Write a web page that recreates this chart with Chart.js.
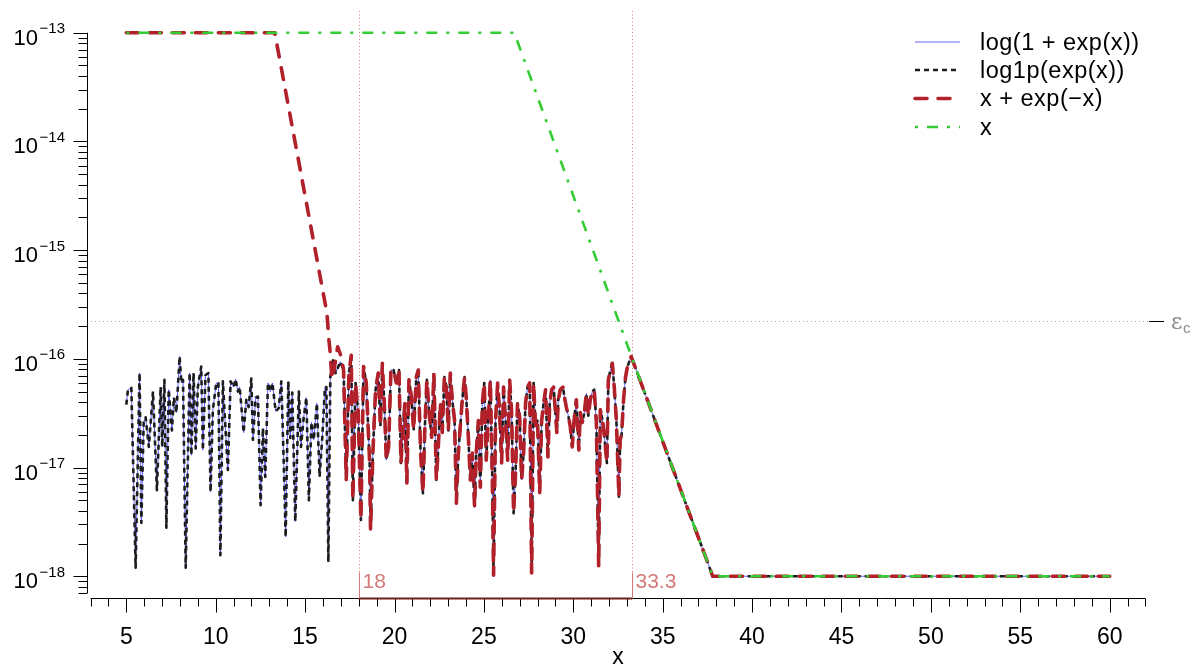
<!DOCTYPE html>
<html>
<head>
<meta charset="utf-8">
<script src="https://cdn.jsdelivr.net/npm/chart.js@4.4.0/dist/chart.umd.min.js"></script>
<style>
  html, body { margin: 0; padding: 0; background: #fff; }
</style>
</head>
<body>
<canvas id="errChart" width="1196" height="665"></canvas>
<script>
// x grid (5 .. 60)
const xVals = [
  5.00, 5.09, 5.28, 5.52, 5.74, 5.84, 5.97, 6.08, 6.26, 6.49, 6.71, 6.92, 7.01, 7.13, 7.24, 7.37,
  7.55, 7.66, 7.80, 7.98, 8.08, 8.17, 8.32, 8.54, 8.64, 8.76, 8.88, 9.00, 9.19, 9.28, 9.43, 9.59,
  9.71, 9.84, 10.03, 10.15, 10.26, 10.40, 10.55, 10.68, 10.83, 11.00, 11.11, 11.24, 11.34, 11.56,
  11.71, 11.84, 11.99, 12.08, 12.23, 12.36, 12.51, 12.64, 12.77, 12.92, 13.05, 13.17, 13.35, 13.52,
  13.67, 13.80, 13.91, 14.06, 14.17, 14.28, 14.45, 14.65, 14.77, 14.92, 15.07, 15.21, 15.35, 15.48,
  15.66, 15.81, 15.96, 16.11, 16.19, 16.30, 16.41, 16.56, 16.71, 16.97, 17.15, 17.30, 17.45, 17.58,
  17.67, 17.82, 17.97, 18.12, 18.27, 18.42, 18.61, 18.66, 18.79, 18.94, 19.09, 19.21, 19.32, 19.45,
  19.54, 19.67, 19.80, 19.95, 20.10, 20.25, 20.36, 20.47, 20.58, 20.69, 20.81, 20.94, 21.07, 21.22,
  21.33, 21.46, 21.59, 21.70, 21.81, 21.96, 22.08, 22.20, 22.34, 22.45, 22.56, 22.67, 22.79, 22.90,
  23.01, 23.12, 23.23, 23.36, 23.46, 23.57, 23.68, 23.79, 23.92, 24.02, 24.13, 24.24, 24.35, 24.48,
  24.57, 24.69, 24.80, 24.91, 25.02, 25.13, 25.25, 25.36, 25.47, 25.54, 25.65, 25.77, 25.88, 25.99,
  26.10, 26.21, 26.33, 26.44, 26.55, 26.66, 26.77, 26.88, 27.00, 27.11, 27.22, 27.33, 27.44, 27.56,
  27.67, 27.78, 27.89, 28.00, 28.12, 28.23, 28.34, 28.45, 28.58, 28.68, 28.79, 28.90, 29.08, 29.16,
  29.27, 29.42, 29.50, 29.61, 29.72, 29.83, 29.94, 30.06, 30.17, 30.31, 30.39, 30.50, 30.62, 30.73,
  30.84, 30.95, 31.06, 31.17, 31.29, 31.42, 31.51, 31.62, 31.73, 31.88, 31.96, 32.07, 32.18, 32.29,
  32.41, 32.55, 32.62, 32.70, 32.81, 32.92, 33.03, 33.24, 37.80, 60.00,
];

// relative error of log(1+exp(x)) (log1p(exp(x)) looks identical in the plot)
const errLog = [
  3.8e-17, 5.2e-17, 5.4e-17, 1.2e-18, 7.4e-17, 3.1e-18, 2.6e-17, 2.9e-17, 1.55e-17, 5.0e-17, 6.2e-18, 5.5e-17, 1.55e-17, 6.4e-17, 2.8e-18, 5.2e-17,
  2.2e-17, 4.4e-17, 3.2e-17, 1.05e-16, 6.0e-17, 6.4e-17, 1.2e-18, 7.4e-17, 1.3e-17, 7.4e-17, 1.5e-17, 5.5e-17, 8.5e-17, 1.45e-17, 7.1e-17, 7.4e-17,
  6.0e-18, 3.4e-17, 6.0e-17, 6.0e-17, 1.56e-18, 6.2e-17, 2.2e-17, 9.5e-18, 6.2e-17, 5.5e-17, 6.5e-17, 5.0e-17, 5.5e-17, 2.1e-17,
  4.2e-17, 3.6e-17, 6.6e-17, 1.8e-17, 4.4e-17, 4.5e-17, 4.5e-18, 2.3e-17, 8.2e-18, 6.0e-17, 5.0e-17, 6.0e-17, 3.3e-17, 3.5e-17,
  6.2e-17, 1.17e-17, 2.3e-18, 6.2e-17, 1.87e-17, 4.9e-17, 3.2e-18, 5.0e-17, 1.55e-17, 2.9e-17, 4.4e-17, 5.0e-18, 2.6e-17, 1.8e-17,
  3.9e-17, 8.2e-18, 1.9e-17, 5.5e-17, 5.5e-17, 1.35e-18, 6.8e-17, 9.7e-17, 7.4e-17, 9.4e-17, 7.9e-17, 7.7e-18, 7.4e-17, 1.08e-16,
  5.0e-18, 6.0e-17, 3.2e-17, 3.3e-18, 8.5e-17, 6.0e-17, 1.1e-17, 2.65e-18, 1.36e-17, 5.2e-17, 7.4e-17, 2.4e-17, 9.1e-17, 3.2e-17,
  1.17e-17, 1.55e-17, 7.9e-17, 7.9e-17, 6.0e-17, 7.9e-17, 1.1e-17, 2.2e-17, 3.9e-17, 7.2e-18, 6.4e-17, 4.5e-17, 2.2e-17, 6.8e-17,
  7.9e-17, 1.36e-17, 5.8e-18, 2.4e-17, 6.4e-17, 2.9e-17, 1.9e-17, 7.4e-17, 7.7e-18, 1.55e-17, 3.9e-17, 2.1e-17, 6.8e-17, 5.5e-17,
  2.2e-17, 7.4e-17, 4.2e-17, 2.7e-17, 4.7e-18, 1.36e-17, 2.4e-17, 4.2e-17, 6.8e-17, 4.2e-17, 1.9e-17, 7.7e-18, 1.36e-17, 4.3e-18,
  1.36e-17, 2.7e-17, 6.6e-18, 3.9e-17, 6.0e-17, 1.17e-17, 2.9e-17, 6.4e-17, 7.7e-18, 1.02e-18, 2.7e-17, 6.0e-17, 3.2e-17, 1.1e-17,
  5.5e-17, 2.7e-17, 1.17e-17, 6.4e-17, 3.2e-17, 3.8e-18, 8.9e-18, 3.9e-17, 2.9e-17, 7.7e-18, 1.36e-17, 3.9e-17, 5.5e-17, 6.0e-17,
  1.07e-18, 6.0e-17, 2.4e-17, 2.7e-17, 5.8e-18, 2.7e-17, 3.9e-17, 5.2e-17, 1.25e-17, 3.9e-17, 5.2e-17, 5.5e-17, 2.1e-17, 4.2e-17,
  5.2e-17, 5.5e-17, 4.5e-17, 3.6e-17, 3.0e-17, 2.4e-17, 1.55e-17, 2.9e-17, 4.2e-17, 1.45e-17, 3.2e-17, 2.6e-17, 3.2e-17, 4.8e-17,
  3.0e-17, 4.2e-17, 5.0e-17, 5.2e-17, 2.6e-17, 1.22e-18, 3.4e-17, 2.8e-17, 2.0e-17, 1.1e-17, 6.4e-17, 7.8e-17, 9.1e-17, 5.5e-17,
  2.7e-17, 5.4e-18, 1.8e-17, 2.0e-17, 4.2e-17, 6.8e-17, 8.5e-17, 1.05e-16, 1.0e-18, 1.0e-18,
];
const errLog1p = errLog;

// x + exp(-x): its own start, then the same noise as above from x = 17.15
const xRedHead = [5, 13.3, 16.22, 16.33, 16.4, 16.5, 16.62, 16.82, 17.02];
const errRedHead = [1e-13, 1e-13, 2.64e-16, 1.5e-16, 1.15e-16, 6.5e-17, 8.0e-17, 1.29e-16, 1.05e-16];

// plain x
const xPlain = [5, 26.7, 33.3, 37.8, 60];
const errPlain = [1e-13, 1e-13, 1.0e-16, 1e-18, 1e-18];

// annotations and axis labels
const epsC = 2.220446e-16;
const cutoffs = [18, 33.3];
const cutoffLabels = ["18", "33.3"];
const xMajor = [5, 10, 15, 20, 25, 30, 35, 40, 45, 50, 55, 60];
const yDecades = [-13, -14, -15, -16, -17, -18];
const seriesNames = ["log(1 + exp(x))", "log1p(exp(x))", "x + exp(\u2212x)", "x"];

const FONT = "'Liberation Sans', Arial, sans-serif";
const PINK = "rgb(212,120,120)";

function toPoints(xs, ys) {
  return xs.map((x, i) => ({ x: x, y: ys[i] }));
}

const redStart = xVals.indexOf(17.15);
const xRed = xRedHead.concat(xVals.slice(redStart));
const errRed = errRedHead.concat(errLog.slice(redStart));

const lineStyles = [
  { color: "rgba(60,60,250,0.8)", width: 1, dash: [], cap: "butt" },
  { color: "#1c1c1c", width: 2.6, dash: [5, 4], cap: "butt" },
  { color: "#b2202a", width: 3.6, dash: [12, 11], cap: "round" },
  { color: "#33cc33", width: 2.6, dash: [3, 9, 11, 9], cap: "butt" },
];

// dotted reference lines behind the data
const refLinesPlugin = {
  id: "refLines",
  beforeDatasetsDraw(chart) {
    const { ctx, chartArea, scales } = chart;
    ctx.save();
    ctx.lineWidth = 1;
    ctx.setLineDash([1, 3]);
    ctx.strokeStyle = "rgb(165,165,165)";
    const ye = Math.round(scales.y.getPixelForValue(epsC)) + 0.5;
    ctx.beginPath();
    ctx.moveTo(chartArea.left, ye);
    ctx.lineTo(chartArea.right, ye);
    ctx.stroke();
    ctx.strokeStyle = PINK;
    ctx.setLineDash([1, 2.5]);
    cutoffs.forEach((c) => {
      const xp = Math.round(scales.x.getPixelForValue(c)) + 0.5;
      ctx.beginPath();
      ctx.moveTo(xp, chartArea.top);
      ctx.lineTo(xp, chartArea.bottom);
      ctx.stroke();
    });
    ctx.restore();
  },
};

// R-style axes, labels, legend
const axesPlugin = {
  id: "axesR",
  afterDraw(chart) {
    const { ctx, chartArea, scales } = chart;
    const sx = scales.x;
    const sy = scales.y;
    const left = chartArea.left;
    const bottom = chartArea.bottom;
    ctx.save();
    ctx.setLineDash([]);
    ctx.strokeStyle = "#000";
    ctx.fillStyle = "#000";
    ctx.lineWidth = 1;

    // y axis
    const yTop = sy.getPixelForValue(1e-13);
    const yBot = sy.getPixelForValue(7e-19);
    ctx.beginPath();
    ctx.moveTo(left + 0.5, yTop);
    ctx.lineTo(left + 0.5, yBot);
    ctx.stroke();
    for (let e = -19; e <= -13; e++) {
      for (let k = 1; k <= 9; k++) {
        const v = k * Math.pow(10, e);
        if (v < 6.9e-19 || v > 1.01e-13) continue;
        const py = Math.round(sy.getPixelForValue(v)) + 0.5;
        const len = k === 1 ? 14 : 9;
        ctx.beginPath();
        ctx.moveTo(left + 0.5, py);
        ctx.lineTo(left + 0.5 - len, py);
        ctx.stroke();
      }
    }
    ctx.textAlign = "left";
    ctx.textBaseline = "alphabetic";
    yDecades.forEach((e) => {
      const py = sy.getPixelForValue(Math.pow(10, e));
      const sup = "\u2212" + Math.abs(e);
      ctx.font = "15px " + FONT;
      const wSup = ctx.measureText(sup).width;
      ctx.font = "22px " + FONT;
      const wBase = ctx.measureText("10").width;
      const right = 65;
      ctx.fillText("10", right - wSup - 1.5 - wBase, py + 12);
      ctx.font = "15px " + FONT;
      ctx.fillText(sup, right - wSup, py + 0.5);
    });

    // x axis
    const xa = Math.round(bottom) + 0.5;
    ctx.beginPath();
    ctx.moveTo(sx.getPixelForValue(3), xa);
    ctx.lineTo(sx.getPixelForValue(62), xa);
    ctx.stroke();
    for (let t = 3; t <= 62; t++) {
      const px = Math.round(sx.getPixelForValue(t)) + 0.5;
      const len = t % 5 === 0 ? 14 : 8;
      ctx.beginPath();
      ctx.moveTo(px, xa);
      ctx.lineTo(px, xa + len);
      ctx.stroke();
    }
    ctx.font = "23px " + FONT;
    ctx.textAlign = "center";
    xMajor.forEach((t) => {
      ctx.fillText(String(t), sx.getPixelForValue(t), xa + 45);
    });
    ctx.fillText("x", (chartArea.left + chartArea.right) / 2, 664);

    // segment between the two cutoffs on the axis, with their labels
    const c0 = sx.getPixelForValue(cutoffs[0]);
    const c1 = sx.getPixelForValue(cutoffs[1]);
    ctx.strokeStyle = "rgb(110,30,30)";
    ctx.lineWidth = 2;
    ctx.beginPath();
    ctx.moveTo(c0, xa);
    ctx.lineTo(c1, xa);
    ctx.stroke();
    ctx.strokeStyle = PINK;
    ctx.fillStyle = PINK;
    ctx.lineWidth = 1;
    ctx.font = "21px " + FONT;
    ctx.textAlign = "left";
    cutoffs.forEach((c, i) => {
      const px = Math.round(sx.getPixelForValue(c)) + 0.5;
      ctx.beginPath();
      ctx.moveTo(px, xa - 26);
      ctx.lineTo(px, xa);
      ctx.stroke();
      ctx.fillText(cutoffLabels[i], px + 3, xa - 11);
    });

    // epsilon_c mark on the right
    const ye = Math.round(sy.getPixelForValue(epsC)) + 0.5;
    ctx.strokeStyle = "#000";
    ctx.beginPath();
    ctx.moveTo(chartArea.right, ye);
    ctx.lineTo(chartArea.right + 15, ye);
    ctx.stroke();
    ctx.fillStyle = "rgb(140,140,140)";
    ctx.font = "22px 'DejaVu Serif', serif";
    ctx.fillText("\u03b5", chartArea.right + 22, ye + 7);
    ctx.font = "15px " + FONT;
    ctx.fillText("c", chartArea.right + 34, ye + 11);

    // legend
    const rows = [42, 70, 98.5, 127];
    ctx.font = "23.5px " + FONT;
    ctx.letterSpacing = "0.5px";
    ctx.textAlign = "left";
    seriesNames.forEach((name, i) => {
      const st = lineStyles[i];
      ctx.strokeStyle = st.color;
      ctx.lineWidth = st.width;
      ctx.lineCap = st.cap;
      ctx.setLineDash(st.dash);
      ctx.beginPath();
      ctx.moveTo(915, rows[i]);
      ctx.lineTo(960, rows[i]);
      ctx.stroke();
      ctx.fillStyle = "#000";
      ctx.fillText(name, 980, rows[i] + 7.5);
    });
    ctx.restore();
  },
};

function makeDataset(i, xs, ys, order) {
  const st = lineStyles[i];
  return {
    label: seriesNames[i],
    data: toPoints(xs, ys),
    borderColor: st.color,
    borderWidth: st.width,
    borderDash: st.dash,
    borderCapStyle: st.cap,
    borderJoinStyle: "round",
    pointRadius: 0,
    tension: 0,
    fill: false,
    order: order,
  };
}

function loadErrorChart() {
  const ctx = document.getElementById("errChart").getContext("2d");
  new Chart(ctx, {
    type: "line",
    data: {
      datasets: [
        makeDataset(0, xVals, errLog, 4),
        makeDataset(1, xVals, errLog1p, 3),
        makeDataset(2, xRed, errRed, 2),
        makeDataset(3, xPlain, errPlain, 1),
      ],
    },
    options: {
      responsive: false,
      animation: false,
      layout: { padding: { left: 87, right: 47, top: 11, bottom: 67 } },
      scales: {
        x: { type: "linear", min: 2.8, max: 62.2, bounds: "data", display: false },
        y: { type: "logarithmic", min: 6.3096e-19, max: 1.5849e-13, display: false },
      },
      plugins: {
        legend: { display: false },
        tooltip: { enabled: false },
      },
    },
    plugins: [refLinesPlugin, axesPlugin],
  });
}

document.addEventListener("DOMContentLoaded", loadErrorChart);
</script>
</body>
</html>
